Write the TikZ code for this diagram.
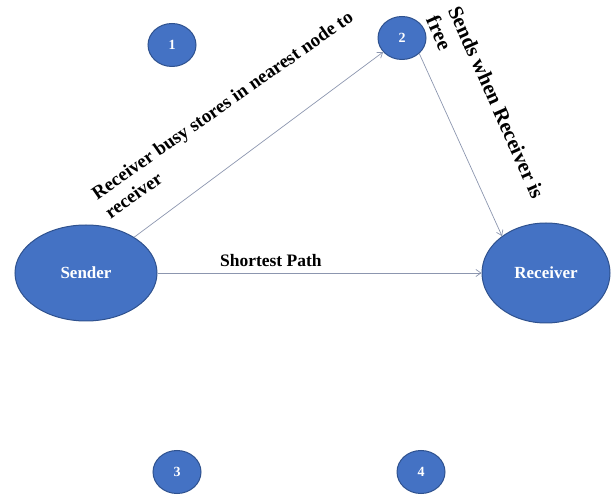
\documentclass[tikz,border=0pt]{standalone}
\usepackage{fontspec}
\setmainfont{Liberation Serif}
\usetikzlibrary{shapes.geometric, positioning, arrows.meta}
\definecolor{nodeblue}{RGB}{68,114,196}
\definecolor{nodeedge}{RGB}{47,82,143}
\definecolor{linkgray}{RGB}{140,150,175}
\tikzstyle{host} = [ellipse,draw=nodeedge,fill=nodeblue,text=white,line width=1pt,font=\bfseries\fontsize{17}{20}\selectfont]
\tikzstyle{relay} = [ellipse,draw=nodeedge,fill=nodeblue,text=white,line width=1pt,minimum width=48pt,minimum height=43pt,inner sep=0pt,font=\bfseries\fontsize{14}{16}\selectfont]
\tikzstyle{link} = [-{Straight Barb[length=5pt,width=7pt]},draw=linkgray,line width=0.7pt]
\tikzstyle{note} = [align=left,inner sep=0pt]

\begin{document}
\begin{tikzpicture}[x=1pt,y=1pt]
\useasboundingbox (0,0) rectangle (615,495);
\node [host,minimum width=142pt,minimum height=96pt] (sender) at (86,222) {Sender};
\node [host,minimum width=128pt,minimum height=100pt,right=324pt of sender] (receiver) {Receiver};
\node [relay] (n1) at (172,450) {1};
\node [relay] (n2) at (402,457) {2};
\node [relay] (n3) at (177,23) {3};
\node [relay] (n4) at (421,23) {4};

\draw[link] (sender) -- (n2);
\draw[link] (n2.-42) -- (receiver.140);
\draw[link] (sender) -- (receiver) node[above=3pt,pos=0.35,font=\bfseries\fontsize{17.5}{21}\selectfont]{Shortest Path};

\node [note,anchor=north west,rotate=35,font=\bfseries\fontsize{19}{23}\selectfont] (busy) at (89.5,305.6) {Receiver busy stores in nearest node to\\receiver};
\node [note,anchor=north west,rotate=-66,font=\bfseries\fontsize{21}{24}\selectfont] (free) at (461,491) {Sends when Receiver is\\free};

\end{tikzpicture}
\end{document}
